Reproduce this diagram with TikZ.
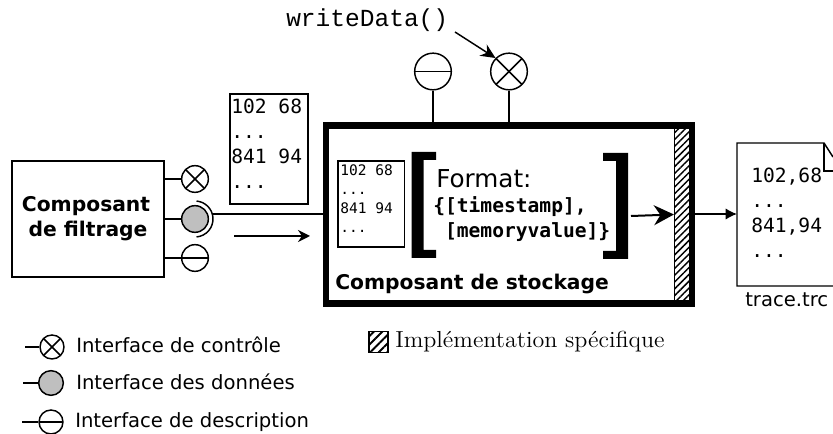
\documentclass[tikz,border=0pt]{standalone}
\usepackage{fontspec}
\usepackage{tikz}
\usetikzlibrary{arrows.meta,patterns.meta}
\newfontfamily\sansfnt{DejaVu Sans}
\newfontfamily\monofnt{DejaVu Sans Mono}
\newfontfamily\courfnt{Liberation Mono}
\tikzset{
  boite/.style={draw, line width=1.1pt, rectangle, inner sep=0pt},
  itf/.style={draw, circle, line width=1.1pt, inner sep=0pt, minimum size=#1},
  itfctrl/.style={itf=#1, path picture={
    \draw[line width=1.1pt] (path picture bounding box.north west) -- (path picture bounding box.south east);
    \draw[line width=1.1pt] (path picture bounding box.north east) -- (path picture bounding box.south west);}},
  itfdata/.style={itf=#1, fill=black!25},
  itfdesc/.style={itf=#1, path picture={
    \draw[line width=1.1pt] (path picture bounding box.west) -- (path picture bounding box.east);}},
  txt/.style={inner sep=0pt, anchor=base west, align=left},
  grand/.style={font=\sansfnt\fontsize{14.7}{17.6}\selectfont},
  gras/.style={font=\sansfnt\bfseries\fontsize{15.2}{18.75}\selectfont},
  donnees/.style={font=\monofnt\fontsize{14.7}{18.75}\selectfont},
  petit/.style={font=\monofnt\fontsize{10.9}{14.25}\selectfont},
  fil/.style={line width=1.1pt},
  hachure/.style={pattern={Lines[angle=45,distance=3.6pt,line width=1.1pt]}}
}
\begin{document}
\begin{tikzpicture}[x=0.75pt, y=-0.75pt]
\useasboundingbox (0,0) rectangle (833,434);
\def \gauche {-{Stealth[length=9pt,width=9pt]}}
% composant de filtrage
\node[boite, gras, align=center, minimum width=114pt, minimum height=87pt] at (88,219) (filtre) {Composant\hspace*{3pt}\\de filtrage};
\node[itfctrl=20pt] at (195,179) (fctrl) {};
\node[itfdata=20pt] at (195,219) (fdata) {};
\node[itfdesc=20pt] at (195,258) (fdesc) {};
\draw[fil] (filtre.east |- fctrl) -- (fctrl);
\draw[fil] (filtre.east |- fdata) -- (fdata);
\draw[fil] (filtre.east |- fdesc) -- (fdesc);
\draw[fil] ([shift={(-85:13.5pt)}]fdata.center) arc [start angle=-85, end angle=85, radius=13.5pt];
% composant de stockage
\node[boite, line width=4.9pt, minimum width=274.5pt, minimum height=133.5pt] at (509.2,214.5) (stockage) {};
\node[boite, hachure, line width=0.6pt, minimum width=13pt, minimum height=129.5pt] at (683,214.5) (impl) {};
\coordinate (socket) at (213,214);
\draw[fil] (socket) -- (stockage.west |- socket);
\coordinate (fluxa) at (234,236);
\coordinate (fluxb) at (310,236);
\draw[fil, \gauche] (fluxa) -- (fluxb);
\node[itfdesc=27.5pt] at (433,71.5) (sdesc) {};
\node[itfctrl=27.5pt] at (509,71.5) (sctrl) {};
\draw[fil] (sdesc) -- (sdesc |- stockage.north);
\draw[fil] (sctrl) -- (sctrl |- stockage.north);
\node[txt, font=\courfnt\fontsize{18.4}{20}\selectfont] at (286,27) (write) {writeData()};
\coordinate (writefin) at (455,32);
\draw[fil, -{Stealth[length=11pt,width=10pt]}] (writefin) -- (sctrl.north west);
% donnees
\node[boite, minimum width=58.5pt, minimum height=82.5pt] at (269,149) (bloc) {};
\node[txt, donnees] at (231,189) (bloctxt) {102 68\\...\\841 94\\...};
\node[boite, line width=0.9pt, minimum width=50pt, minimum height=64.5pt] at (371.3,204) (mini) {};
\node[txt, petit] at (340,233) (minitxt) {102 68\\...\\841 94\\...};
% format
\fill (411.7,152) -- (436,152) -- (436,160) -- (423.5,160) -- (423.5,250) -- (436,250) -- (436,258) -- (411.7,258) -- cycle;
\fill (603,153) -- (628,153) -- (628,259) -- (603,259) -- (603,251) -- (616,251) -- (616,161) -- (603,161) -- cycle;
\node[txt, font=\sansfnt\fontsize{18.5}{20}\selectfont] at (436,188) (format) {Format:};
\node[txt, font=\monofnt\bfseries\fontsize{14.7}{18.75}\selectfont] at (433,238) (champs) {\{[timestamp],\\\phantom{\{}[memoryvalue]\}};
\coordinate (fmtout) at (631,216);
\draw[line width=1.5pt, -{Stealth[length=15pt,width=15pt]}] (fmtout) -- (impl.west);
\node[txt, gras] at (335,290) (titre) {Composant de stockage};
% fichier
\coordinate (fnw) at (737,143);
\coordinate (fsw) at (737,286);
\coordinate (ftrace) at (737,214);
\draw[fil] (833,157) -- (824,143) -- (fnw) -- (fsw) -- (833,286);
\draw[fil] (824,143) -- (824,171) -- (833,171);
\draw[fil, -{Latex[length=8.5pt,width=8.5pt]}] (impl.east |- ftrace) -- (ftrace);
\node[txt, donnees] at (751,258) (tracetxt) {102,68\\...\\841,94\\...};
\node[txt, grand] at (745,307) (tracenom) {trace.trc};
% legende
\node[itfctrl=18pt] at (52,347) (lctrl) {};
\node[itfdata=18.5pt] at (51,383) (ldata) {};
\node[itfdesc=18pt] at (51,422) (ldesc) {};
\coordinate (lca) at (25,347);
\coordinate (lda) at (23,383);
\coordinate (lde) at (22,422);
\draw[fil] (lca) -- (lctrl);
\draw[fil] (lda) -- (ldata);
\draw[fil] (lde) -- (ldesc);
\node[txt, grand] at (76,353) (lctrltxt) {Interface de contrôle};
\node[txt, grand] at (76,390) (ldatatxt) {Interface des données};
\node[txt, grand] at (75,428) (ldesctxt) {Interface de description};
\node[boite, line width=1.1pt, pattern={Lines[angle=45,distance=4.5pt,line width=1.5pt]}, minimum width=14pt, minimum height=16pt] at (378.5,342) (limpl) {};
\node[txt, font=\fontsize{14.5}{16}\selectfont] at (395,348) (limpltxt) {\scalebox{1.243}[1.2]{Implémentation spécifique}};
\end{tikzpicture}
\end{document}
